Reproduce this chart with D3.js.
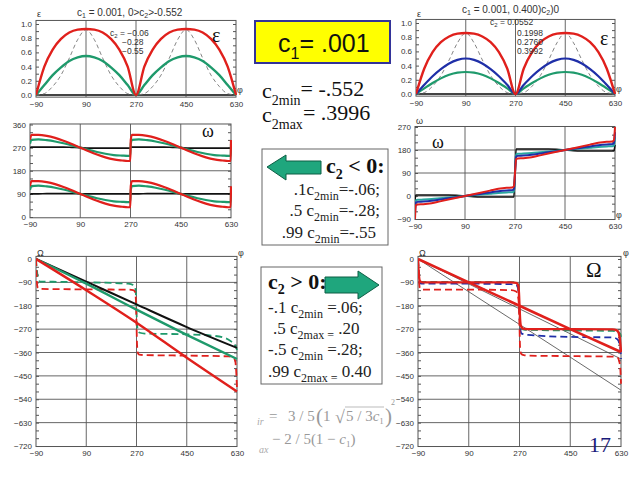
<!DOCTYPE html>
<html><head><meta charset="utf-8">
<script src="https://cdn.jsdelivr.net/npm/d3@7"></script>
<style>body{margin:0;background:#fff}svg{display:block}</style>
</head><body>
<svg id="c" width="640" height="480"></svg>
<script>
// ---------- DATA ----------
const xTicks = [-90, 90, 270, 450, 630];
// epsilon panels
const phiE = [-90,-60,-30,0,30,60,90,120,150,180,210,240,270,300,330,360,390,420,450,480,510,540,570,600,630];
const epsLRed   = [0,0.40,0.64,0.79,0.88,0.92,0.93,0.92,0.88,0.79,0.64,0.40,0,0.40,0.64,0.79,0.88,0.92,0.93,0.92,0.88,0.79,0.64,0.40,0];
const epsLGreen = [0,0.14,0.28,0.39,0.48,0.53,0.55,0.53,0.48,0.39,0.28,0.14,0,0.14,0.28,0.39,0.48,0.53,0.55,0.53,0.48,0.39,0.28,0.14,0];
const epsLDash  = [0,0.02,0.12,0.28,0.52,0.78,0.92,0.78,0.52,0.28,0.12,0.02,0,0.02,0.12,0.28,0.52,0.78,0.92,0.78,0.52,0.28,0.12,0.02,0];
const epsRRed   = [0,0.36,0.59,0.73,0.81,0.85,0.86,0.85,0.81,0.73,0.59,0.36,0,0.36,0.59,0.73,0.81,0.85,0.86,0.85,0.81,0.73,0.59,0.36,0];
const epsRBlue  = [0,0.13,0.25,0.35,0.43,0.48,0.50,0.48,0.43,0.35,0.25,0.13,0,0.13,0.25,0.35,0.43,0.48,0.50,0.48,0.43,0.35,0.25,0.13,0];
const epsRGreen = [0,0.08,0.155,0.22,0.27,0.30,0.31,0.30,0.27,0.22,0.155,0.08,0,0.08,0.155,0.22,0.27,0.30,0.31,0.30,0.27,0.22,0.155,0.08,0];
const epsRDash  = [0,0.02,0.11,0.26,0.48,0.72,0.86,0.72,0.48,0.26,0.11,0.02,0,0.02,0.11,0.26,0.48,0.72,0.86,0.72,0.48,0.26,0.11,0.02,0];
const epsTicks = [0,0.2,0.4,0.6,0.8,1.0];
// omega, c2 < 0
const phiW = [-90,-85,-60,-30,0,30,60,90,120,150,180,210,240,260,269,271,275,300,330,360,390,420,450,480,510,540,570,600,620,629,630];
const wUpRed    = [300,320,320,316,308,297,284,270,256,243,232,224,220,218,218,300,320,320,316,308,297,284,270,256,243,232,224,220,218,218,300];
const wUpGreen  = [285,300,302,299,294,287,279,270,261,253,246,241,239,238,238,285,300,302,299,294,287,279,270,261,253,246,241,239,238,238,285];
const wUpBlack  = [270,272,272,272,272,272,271,270,268,268,268,268,268,268,268,272,272,272,272,272,272,271,270,268,268,268,268,268,268,268,272];
const wLoRed    = [120,140,140,136,128,117,104,90,76,63,52,44,40,38,38,120,140,140,136,128,117,104,90,76,63,52,44,40,38,38,120];
const wLoGreen  = [105,120,122,119,114,107,99,90,81,73,66,61,59,58,58,105,120,122,119,114,107,99,90,81,73,66,61,59,58,58,105];
const wLoBlack  = [88,90,90,91,91,91,91,90,90,90,90,90,90,90,90,88,90,90,91,91,91,91,90,90,90,90,90,90,90,90,88];
const wLTicks = [0,90,180,270,360];
// omega, c2 > 0
const phiR = [-90,-87,-80,-60,-30,0,30,60,90,120,150,180,210,240,260,266,270,274,280,300,330,360,390,420,450,480,510,540,570,600,620,626,630];
const wRRed   = [-90,-36,-33,-32,-28,-21,-14,-7,0,7,14,21,28,32,33,38,90,144,147,148,152,159,166,173,180,187,194,201,208,212,213,218,270];
const wRBlue  = [-70,-26,-23,-22,-19,-14,-9,-5,0,5,9,14,19,22,23,26,90,154,157,158,161,166,171,175,180,185,189,194,199,202,203,206,250];
const wRGreen = [-50,-17,-15,-14,-12,-9,-6,-3,0,3,6,9,12,14,15,17,90,163,165,166,168,171,174,177,180,183,186,189,192,194,195,197,230];
const wRBlack = [-20,4,4,4,4,4,4,3,0,-3,-4,-4,-4,-4,-4,-4,90,184,184,184,184,184,184,183,180,177,176,176,176,176,176,176,200];
const wRTicks = [-90,0,90,180,270];
// Omega panels
const OTicks = [-720,-630,-540,-450,-360,-270,-180,-90,0];
const phi5 = [-90,90,270,450,630];
const OLBlack = [0,-87,-175,-262,-342];
const OLGreen = [0,-95,-195,-292,-385];
const OLRed   = [0,-120,-245,-380,-510];
const phiOLGD = [-90,-86,-82,-75,0,90,180,240,258,265,268,270,272,275,282,300,450,540,590,610,622,627,630];
const OLGreenDash = [0,-50,-80,-87,-88,-90,-92,-95,-100,-108,-140,-200,-250,-275,-284,-287,-290,-295,-305,-318,-330,-340,-350];
const phiOLRD = [-90,-88,-86,-83,-75,90,240,258,264,268,270,272,275,280,300,450,600,618,624,627,630];
const OLRedDash = [0,-60,-100,-112,-115,-117,-118,-120,-125,-160,-250,-330,-362,-368,-370,-372,-375,-380,-395,-430,-500];
const ORThin1 = [0,-126,-252,-378,-505];
const ORThin2 = [0,-96,-192,-288,-385];
const ORRedDiag = [0,-90,-180,-270,-358];
const phiORS = [-90,-87,-83,-75,90,240,258,265,268,270,272,275,282,300,450,600,615,622,626,630];
const ORRedStep = [0,-60,-85,-90,-90,-90,-92,-100,-130,-180,-230,-258,-268,-270,-270,-271,-275,-285,-310,-358];
const phiORD = [-90,-87,-84,-78,90,240,258,264,268,270,272,276,285,300,450,600,618,624,628,630];
const ORRedDash   = [0,-70,-110,-118,-118,-120,-125,-140,-180,-260,-340,-365,-370,-372,-374,-376,-380,-395,-430,-480];
const ORBlueDash  = [0,-70,-92,-95,-95,-97,-100,-110,-150,-210,-260,-285,-290,-292,-300,-302,-310,-325,-350,-385];
const ORGreenDash = [0,-65,-85,-88,-88,-89,-90,-95,-140,-200,-250,-268,-272,-273,-275,-277,-280,-285,-290,-300];

// ---------- DRAW ----------
const RED = '#e0201c', GREEN = '#1f9a6c', BLUE = '#1f2fa8', BLK = '#111';
const svg = d3.select('#c');
const SANS = 'Liberation Sans, Arial, sans-serif';
const SERIF = 'Liberation Serif, Times New Roman, serif';

function panel(o) {
  const g = svg.append('g');
  const x = d3.scaleLinear().domain([-90, 630]).range(o.xr);
  const y = d3.scaleLinear().domain(o.yd).range(o.yr);
  const fx0 = x(-90), fx1 = x(630);
  const fy0 = y(o.frame[1]), fy1 = y(o.frame[0]);
  g.append('rect').attr('x', fx0).attr('y', fy0).attr('width', fx1 - fx0).attr('height', fy1 - fy0)
    .attr('fill', '#fff').attr('stroke', '#555').attr('stroke-width', 1);
  g.selectAll(null).data([90, 270, 450]).join('line')
    .attr('x1', d => x(d)).attr('x2', d => x(d)).attr('y1', fy0).attr('y2', fy1)
    .attr('stroke', '#555').attr('stroke-width', 0.9);
  g.selectAll(null).data(o.hgrid).join('line')
    .attr('x1', fx0).attr('x2', fx1).attr('y1', d => y(d)).attr('y2', d => y(d))
    .attr('stroke', o.hgridW ? '#444' : '#555').attr('stroke-width', o.hgridW || 0.9);
  const mt = o.minor;
  g.append('g').attr('transform', `translate(${fx0},0)`).call(d3.axisRight(y).tickValues(mt).tickSize(3).tickFormat(''))
    .call(s => s.select('.domain').remove()).selectAll('line').attr('stroke', '#555');
  g.append('g').attr('transform', `translate(${fx1},0)`).call(d3.axisLeft(y).tickValues(mt).tickSize(3).tickFormat(''))
    .call(s => s.select('.domain').remove()).selectAll('line').attr('stroke', '#555');
  g.append('g').attr('transform', `translate(${fx0},0)`)
    .call(d3.axisLeft(y).tickValues(o.yt).tickFormat(o.yf).tickSize(0).tickPadding(4))
    .call(s => s.select('.domain').remove())
    .selectAll('text').attr('font-family', SANS).attr('font-size', 8).attr('fill', '#333');
  g.append('g').attr('transform', `translate(0,${fy1})`)
    .call(d3.axisBottom(x).tickValues(xTicks).tickSize(0).tickPadding(4))
    .call(s => s.select('.domain').remove())
    .selectAll('text').attr('font-family', SANS).attr('font-size', 8).attr('fill', '#333');
  const clipId = 'cl' + Math.round(fx0) + '_' + Math.round(fy0);
  g.append('clipPath').attr('id', clipId).append('rect')
    .attr('x', fx0).attr('y', fy0 - 1).attr('width', fx1 - fx0 + 1).attr('height', fy1 - fy0 + 2);
  const plot = g.append('g').attr('clip-path', `url(#${clipId})`);
  return { g, plot, x, y, fx0, fx1, fy0, fy1 };
}

function series(p, xs, ys, color, w, dash) {
  p.plot.append('path').datum(d3.zip(xs, ys))
    .attr('d', d3.line().x(d => p.x(d[0])).y(d => p.y(d[1])).curve(d3.curveMonotoneX))
    .attr('fill', 'none').attr('stroke', color).attr('stroke-width', w)
    .attr('stroke-dasharray', dash || null).attr('stroke-linejoin', 'round');
}

function txt(x, y, parts, o) {
  o = o || {};
  const t = svg.append('text').attr('x', x).attr('y', y)
    .attr('font-family', o.family || SERIF).attr('font-size', o.size || 17)
    .attr('fill', o.fill || '#111').attr('text-anchor', o.anchor || 'start')
    .attr('font-weight', o.weight || 'normal').attr('font-style', o.style || 'normal');
  parts.forEach(pt => {
    const s = t.append('tspan').text(pt.t);
    if (pt.dy) s.attr('dy', pt.dy);
    if (pt.size) s.attr('font-size', pt.size);
    if (pt.style) s.attr('font-style', pt.style);
  });
  return t;
}

// --- epsilon left
const eL = panel({ xr: [36, 236], yd: [0, 1], yr: [95, 24], frame: [-0.03, 1.05], hgrid: [0], hgridW: 1.8,
  yt: epsTicks, yf: d3.format('.1f'), minor: d3.range(0, 1.01, 0.1) });
series(eL, phiE, epsLDash, '#777', 0.9, '4,3');
series(eL, phiE, epsLGreen, GREEN, 2.4);
series(eL, phiE, epsLRed, RED, 2.4);

// --- epsilon right
const eR = panel({ xr: [416, 615], yd: [0, 1], yr: [94, 23], frame: [-0.03, 1.05], hgrid: [0], hgridW: 1.8,
  yt: epsTicks, yf: d3.format('.1f'), minor: d3.range(0, 1.01, 0.1) });
series(eR, phiE, epsRDash, '#777', 0.9, '4,3');
series(eR, phiE, epsRGreen, GREEN, 2.2);
series(eR, phiE, epsRBlue, BLUE, 2.2);
series(eR, phiE, epsRRed, RED, 2.4);

// --- omega left
const wL = panel({ xr: [30, 231], yd: [0, 360], yr: [217, 124.5], frame: [-3, 362], hgrid: [180],
  yt: wLTicks, yf: d3.format('d'), minor: d3.range(0, 361, 30) });
series(wL, phiW, wUpBlack, BLK, 1.6);
series(wL, phiW, wLoBlack, BLK, 1.6);
series(wL, phiW, wUpGreen, GREEN, 2.2);
series(wL, phiW, wLoGreen, GREEN, 2.2);
series(wL, phiW, wUpRed, RED, 2.2);
series(wL, phiW, wLoRed, RED, 2.2);

// --- omega right
const wR = panel({ xr: [415, 615], yd: [-90, 270], yr: [219, 127], frame: [-92, 272], hgrid: [0, 90, 180],
  yt: wRTicks, yf: d3.format('d'), minor: d3.range(-90, 271, 30) });
series(wR, phiR, wRBlack, BLK, 1.6);
series(wR, phiR, wRGreen, '#2aa7a0', 2);
series(wR, phiR, wRBlue, BLUE, 2);
series(wR, phiR, wRRed, RED, 2);

// --- Omega left
const OL = panel({ xr: [36, 237], yd: [-720, 0], yr: [446, 259], frame: [-722, 10], hgrid: [-630, -540, -450, -360, -270, -180, -90],
  yt: OTicks, yf: d3.format('d'), minor: d3.range(-720, 1, 30) });
series(OL, phiOLGD, OLGreenDash, GREEN, 1.8, '7,4');
series(OL, phiOLRD, OLRedDash, RED, 1.8, '7,4');
series(OL, phi5, OLBlack, BLK, 2);
series(OL, phi5, OLGreen, GREEN, 2.4);
series(OL, phi5, OLRed, RED, 2.4);

// --- Omega right
const OR = panel({ xr: [418, 621], yd: [-720, 0], yr: [446, 259], frame: [-722, 10], hgrid: [-630, -540, -450, -360, -270, -180, -90],
  yt: OTicks, yf: d3.format('d'), minor: d3.range(-720, 1, 30) });
series(OR, phi5, ORThin1, '#444', 0.8);
series(OR, phi5, ORThin2, '#444', 0.8);
series(OR, phiORD, ORGreenDash, GREEN, 1.8, '7,4');
series(OR, phiORD, ORBlueDash, BLUE, 1.8, '7,4');
series(OR, phiORD, ORRedDash, RED, 1.8, '7,4');
series(OR, phiORS, ORRedStep, RED, 2.4);
series(OR, phi5, ORRedDiag, RED, 2.6);

// --- axis name labels
const small = { family: SANS, size: 9, fill: '#333' };
txt(37, 17, [{ t: 'ε' }], small); txt(237, 93, [{ t: 'φ' }], small);
txt(417, 17, [{ t: 'ε' }], small); txt(616, 92, [{ t: 'φ' }], small);
txt(416, 124, [{ t: 'ω' }], small); txt(616, 218, [{ t: 'φ' }], small);
txt(37, 256, [{ t: 'Ω' }], small); txt(238, 256, [{ t: 'φ' }], small);
txt(419, 256, [{ t: 'Ω' }], small); txt(623, 256, [{ t: 'φ' }], small);

// --- panel titles / legends
const ttl = { family: SANS, size: 10, fill: '#333' };
txt(77, 16, [{ t: 'c' }, { t: '1', size: 7, dy: 2 }, { t: ' = 0.001, 0>c', dy: -2 }, { t: '2', size: 7, dy: 2 }, { t: '>-0.552', dy: -2 }], ttl);
txt(462, 13, [{ t: 'c' }, { t: '1', size: 7, dy: 2 }, { t: ' = 0.001, 0.400)c', dy: -2 }, { t: '2', size: 7, dy: 2 }, { t: ')0', dy: -2 }], ttl);
const lg = { family: SANS, size: 8.5, fill: '#333' };
txt(110, 36, [{ t: 'c' }, { t: '2', size: 6, dy: 1.5 }, { t: ' = −0.06', dy: -1.5 }], lg);
txt(122, 45, [{ t: '−0.28' }], lg);
txt(122, 54, [{ t: '−0.55' }], lg);
txt(490, 25, [{ t: 'c' }, { t: '2', size: 6, dy: 1.5 }, { t: ' = 0.0552', dy: -1.5 }], lg);
txt(517, 36, [{ t: '0.1998' }], lg);
txt(517, 45, [{ t: '0.2760' }], lg);
txt(517, 54, [{ t: '0.3992' }], lg);

// big symbols
txt(212, 42, [{ t: 'ε' }], { size: 20 });
txt(600, 45, [{ t: 'ε' }], { size: 20 });
txt(202, 137, [{ t: 'ω' }], { size: 18 });
txt(432, 148, [{ t: 'ω' }], { size: 18 });
txt(586, 277, [{ t: 'Ω' }], { size: 21 });

// --- c1 box
svg.append('rect').attr('x', 255).attr('y', 21).attr('width', 135).attr('height', 42)
  .attr('fill', '#ffff00').attr('stroke', '#333399').attr('stroke-width', 2);
txt(278, 52, [{ t: 'c' }, { t: '1', size: 16, dy: 7 }, { t: '= .001', dy: -7 }], { family: SANS, size: 25 });

// c2min / c2max
txt(262, 98, [{ t: 'c' }, { t: '2min', size: 14, dy: 7 }, { t: '= -.552', dy: -9 }], { size: 22 });
txt(262, 122, [{ t: 'c' }, { t: '2max', size: 14, dy: 7 }, { t: '= .3996', dy: -9 }], { size: 22 });

// --- box c2 < 0
svg.append('rect').attr('x', 262).attr('y', 149).attr('width', 126).attr('height', 96)
  .attr('fill', 'none').attr('stroke', '#666').attr('stroke-width', 1);
svg.append('path').attr('d', 'M267,167 L286,155 L286,161 L321,161 L321,174 L286,174 L286,180 Z')
  .attr('fill', '#1fa67d').attr('stroke', '#0d5e45').attr('stroke-width', 1);
txt(326, 173, [{ t: 'c' }, { t: '2', size: 14, dy: 6 }, { t: ' < 0:', dy: -6 }], { size: 22, weight: 'bold' });
txt(380, 195, [{ t: '.1c' }, { t: '2min', size: 12, dy: 5 }, { t: '=-.06;', dy: -5 }], { size: 17, anchor: 'end', fill: '#222' });
txt(380, 216, [{ t: '.5 c' }, { t: '2min', size: 12, dy: 5 }, { t: '=-.28;', dy: -5 }], { size: 17, anchor: 'end', fill: '#222' });
txt(376, 238, [{ t: '.99 c' }, { t: '2min', size: 12, dy: 5 }, { t: '=-.55', dy: -5 }], { size: 17, anchor: 'end', fill: '#222' });

// --- box c2 > 0
svg.append('rect').attr('x', 261).attr('y', 267).attr('width', 121).attr('height', 117)
  .attr('fill', 'none').attr('stroke', '#666').attr('stroke-width', 1);
svg.append('path').attr('d', 'M325,277 L358,277 L358,271 L379,285 L358,299 L358,293 L325,293 Z')
  .attr('fill', '#1fa67d').attr('stroke', '#0d5e45').attr('stroke-width', 1);
txt(268, 289, [{ t: 'c' }, { t: '2', size: 14, dy: 5 }, { t: ' > 0:', dy: -5 }], { size: 22, weight: 'bold' });
txt(268, 313, [{ t: '-.1 c' }, { t: '2min', size: 12, dy: 5 }, { t: ' =.06;', dy: -5 }], { size: 17, fill: '#222' });
txt(273, 334, [{ t: '.5 c' }, { t: '2max =', size: 12, dy: 5 }, { t: ' .20', dy: -5 }], { size: 17, fill: '#222' });
txt(268, 355, [{ t: '-.5 c' }, { t: '2min', size: 12, dy: 5 }, { t: ' =.28;', dy: -5 }], { size: 17, fill: '#222' });
txt(268, 377, [{ t: '.99 c' }, { t: '2max =', size: 12, dy: 5 }, { t: ' 0.40', dy: -5 }], { size: 17, fill: '#222' });

// --- formula
const gf = { size: 15, fill: '#999' };
txt(257, 425, [{ t: 'ir' }], { size: 10, fill: '#aaa', style: 'italic' });
txt(269, 421, [{ t: '=' }], gf);
txt(288, 421, [{ t: '3 / 5' }], gf);
txt(316, 423, [{ t: '(' }], { size: 21, fill: '#999' });
txt(323, 421, [{ t: '1' }], gf);
txt(335, 423, [{ t: '√' }], { size: 18, fill: '#999' });
svg.append('line').attr('x1', 345).attr('x2', 384).attr('y1', 407).attr('y2', 407).attr('stroke', '#aaa').attr('stroke-width', 0.8);
txt(346, 421, [{ t: '5 / 3' }, { t: 'c', style: 'italic' }, { t: '1', size: 9, dy: 3 }], gf);
txt(385, 423, [{ t: ')' }], { size: 21, fill: '#999' });
txt(391, 405, [{ t: '2' }], { size: 8, fill: '#999' });
txt(259, 453, [{ t: 'ax' }], { size: 10, fill: '#aaa', style: 'italic' });
txt(272, 444, [{ t: '− 2 / 5(1 − ' }, { t: 'c', style: 'italic' }, { t: '1', size: 9, dy: 3 }, { t: ')', dy: -3 }], gf);

// slide number
txt(589, 452, [{ t: '17' }], { size: 22, fill: '#1a1a7a' });
</script>
</body></html>
